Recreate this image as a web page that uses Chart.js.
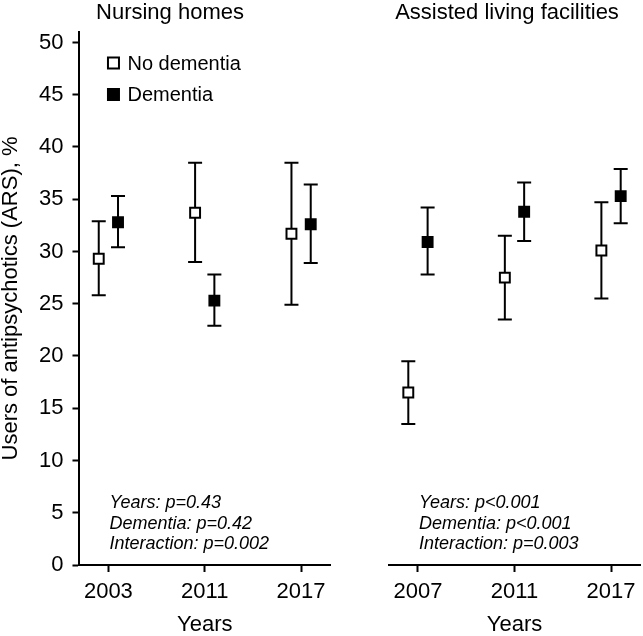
<!DOCTYPE html>
<html>
<head>
<meta charset="utf-8">
<script src="https://cdn.jsdelivr.net/npm/chart.js@4.4.1/dist/chart.umd.min.js"></script>
<style>
    html, body { margin: 0; background: #fff; overflow: hidden; }
    #wrap { position: relative; width: 643px; height: 636px; overflow: hidden; }
    .panel { position: absolute; top: 0; height: 636px; }
    #left { left: 0; width: 339px; }
    #right { left: 335px; width: 314px; }
</style>
</head>
<body>
<div id="wrap">
    <div class="panel" id="left"><canvas id="nhChart"></canvas></div>
    <div class="panel" id="right"><canvas id="alfChart"></canvas></div>
</div>
<script>
// categories
const nhYears = ['2003', '2011', '2017'];
const alfYears = ['2007', '2011', '2017'];

// Nursing homes
const nhNoDem = [29.3, 33.7, 31.7];
const nhNoDemLow = [25.8, 29.0, 24.9];
const nhNoDemHigh = [32.9, 38.5, 38.5];
const nhDem = [32.8, 25.3, 32.6];
const nhDemLow = [30.4, 22.9, 28.9];
const nhDemHigh = [35.3, 27.8, 36.4];

// Assisted living facilities
const alfNoDem = [16.5, 27.5, 30.1];
const alfNoDemLow = [13.5, 23.5, 25.5];
const alfNoDemHigh = [19.5, 31.5, 34.7];
const alfDem = [30.9, 33.8, 35.3];
const alfDemLow = [27.8, 31.0, 32.7];
const alfDemHigh = [34.2, 36.6, 37.9];

// y ticks (labels every 5, minor marks every 2.5)
const yTicks = [0, 2.5, 5, 7.5, 10, 12.5, 15, 17.5, 20, 22.5, 25, 27.5, 30, 32.5, 35, 37.5, 40, 42.5, 45, 47.5, 50];

const nhNotes = ['Years: p=0.43', 'Dementia: p=0.42', 'Interaction: p=0.002'];
const alfNotes = ['Years: p<0.001', 'Dementia: p<0.001', 'Interaction: p=0.003'];

const FONT = '"Liberation Sans", Arial, sans-serif';
Chart.defaults.font.family = FONT;
Chart.defaults.color = '#000';

// error bars drawn under the squares
const errorBars = {
    id: 'errorBars',
    beforeDatasetsDraw(chart) {
        const { ctx, scales: { x, y } } = chart;
        ctx.save();
        ctx.strokeStyle = '#000';
        ctx.lineWidth = 2;
        chart.data.datasets.forEach(ds => {
            ds.data.forEach((p, i) => {
                const px = x.getPixelForValue(p.x);
                const top = y.getPixelForValue(ds.hi[i]);
                const bot = y.getPixelForValue(ds.lo[i]);
                ctx.beginPath();
                ctx.moveTo(px, top); ctx.lineTo(px, bot);
                ctx.moveTo(px - 7, top); ctx.lineTo(px + 7, top);
                ctx.moveTo(px - 7, bot); ctx.lineTo(px + 7, bot);
                ctx.stroke();
            });
        });
        ctx.restore();
    }
};

// panel title, p-values and legend
const panelText = {
    id: 'panelText',
    afterDraw(chart, args, opts) {
        const { ctx, chartArea, scales: { x } } = chart;
        ctx.save();
        ctx.fillStyle = '#000';
        ctx.textBaseline = 'middle';

        ctx.font = `22px ${FONT}`;
        ctx.textAlign = 'center';
        ctx.fillText(opts.title, opts.titleX, 13);

        ctx.font = `italic 18px ${FONT}`;
        ctx.textAlign = 'left';
        const nx = x.getPixelForValue(0) + 1;
        opts.notes.forEach((t, i) => {
            ctx.fillText(t, nx, chartArea.bottom - 62 + i * 20.7);
        });

        if (opts.legend) {
            const lx = chartArea.left + 34;
            ctx.font = `20px ${FONT}`;
            chart.data.datasets.forEach((ds, i) => {
                const ly = chartArea.top + 31 + i * 31.5;
                ctx.lineWidth = 2;
                ctx.strokeStyle = '#000';
                ctx.fillStyle = ds.backgroundColor;
                ctx.fillRect(lx - 5.5, ly - 5.5, 11, 11);
                ctx.strokeRect(lx - 5.5, ly - 5.5, 11, 11);
                ctx.fillStyle = '#000';
                ctx.fillText(ds.label, lx + 14, ly + 1);
            });
        }
        ctx.restore();
    }
};

function buildDatasets(noDem, noLow, noHigh, dem, demLow, demHigh) {
    return [
        {
            label: 'No dementia',
            data: noDem.map((v, i) => ({ x: i - 0.1, y: v })),
            lo: noLow, hi: noHigh,
            pointStyle: 'rect', pointRadius: 7,
            backgroundColor: '#fff', borderColor: '#000', borderWidth: 2
        },
        {
            label: 'Dementia',
            data: dem.map((v, i) => ({ x: i + 0.1, y: v })),
            lo: demLow, hi: demHigh,
            pointStyle: 'rect', pointRadius: 7,
            backgroundColor: '#000', borderColor: '#000', borderWidth: 2
        }
    ];
}

function createPanel(id, years, datasets, showYAxis, padding, text) {
    const ctx = document.getElementById(id);
    return new Chart(ctx, {
        type: 'scatter',
        data: { datasets: datasets },
        options: {
            responsive: true,
            maintainAspectRatio: false,
            animation: false,
            layout: { padding: padding },
            plugins: {
                legend: { display: false },
                tooltip: { enabled: false },
                panelText: text
            },
            scales: {
                x: {
                    type: 'linear',
                    min: -0.3,
                    max: 2.3,
                    afterBuildTicks: scale => {
                        scale.ticks = years.map((_, i) => ({ value: i }));
                    },
                    ticks: {
                        callback: v => years[v],
                        font: { size: 22, lineHeight: 1 },
                        padding: 9,
                        maxRotation: 0
                    },
                    grid: { drawOnChartArea: false, tickLength: 7, tickWidth: 2, tickColor: '#000' },
                    border: { color: '#000', width: 2 },
                    title: {
                        display: true,
                        text: 'Years',
                        font: { size: 22, lineHeight: 1 },
                        padding: { top: 2, bottom: 0 }
                    }
                },
                y: {
                    display: showYAxis,
                    min: 0,
                    max: 51,
                    afterBuildTicks: scale => {
                        scale.ticks = yTicks.map(v => ({ value: v }));
                    },
                    ticks: {
                        callback: v => (v % 5 === 0 ? v : ''),
                        font: { size: 22, lineHeight: 1.2 },
                        padding: 9
                    },
                    grid: { drawOnChartArea: false, tickLength: 7, tickWidth: 2, tickColor: '#000' },
                    border: { color: '#000', width: 2 },
                    title: {
                        display: true,
                        text: 'Users of antipsychotics (ARS), %',
                        font: { size: 22, lineHeight: 1 },
                        padding: { top: 0, bottom: 8 }
                    }
                }
            }
        },
        plugins: [errorBars, panelText]
    });
}

createPanel('nhChart', nhYears,
    buildDatasets(nhNoDem, nhNoDemLow, nhNoDemHigh, nhDem, nhDemLow, nhDemHigh),
    true,
    { top: 32, right: 5, left: 0, bottom: 0 },
    { title: 'Nursing homes', titleX: 170, notes: nhNotes, legend: true });

createPanel('alfChart', alfYears,
    buildDatasets(alfNoDem, alfNoDemLow, alfNoDemHigh, alfDem, alfDemLow, alfDemHigh),
    false,
    { top: 32, right: 5, left: 54, bottom: 0 },
    { title: 'Assisted living facilities', titleX: 172, notes: alfNotes, legend: false });
</script>
</body>
</html>
